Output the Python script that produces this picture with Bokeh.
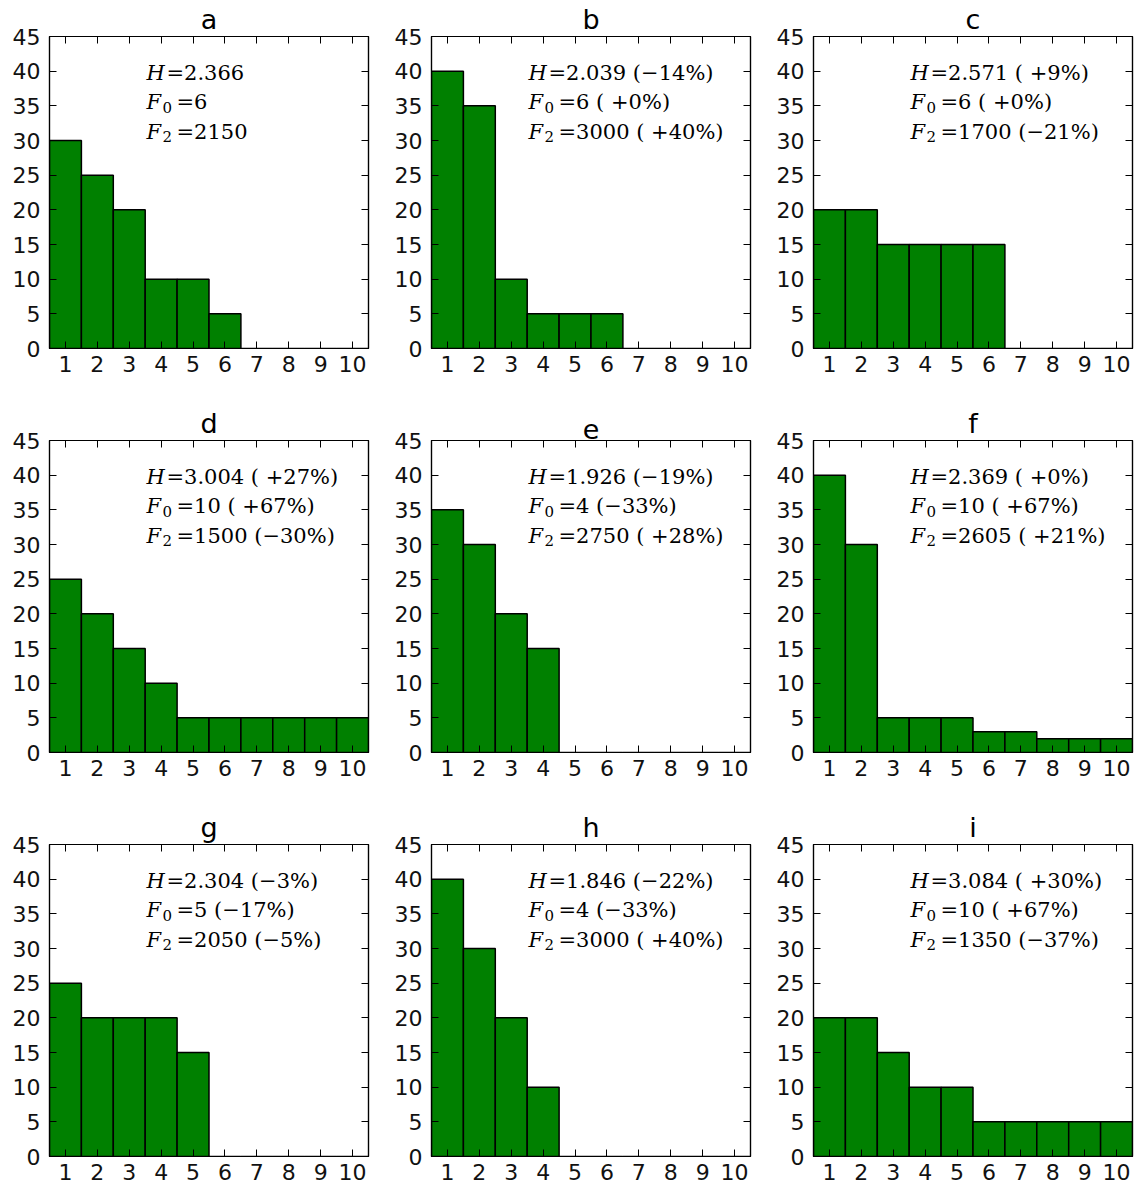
from bokeh.plotting import figure
from bokeh.layouts import gridplot
from bokeh.models import LinearAxis, FixedTicker, Label, Range1d, ColumnDataSource
from bokeh.embed import file_html
from bokeh.resources import INLINE

# ---------------- data ----------------
panel_names = ["a", "b", "c", "d", "e", "f", "g", "h", "i"]
ranks = [1, 2, 3, 4, 5, 6, 7, 8, 9, 10]
counts_a = [30, 25, 20, 10, 10, 5, 0, 0, 0, 0]
counts_b = [40, 35, 10, 5, 5, 5, 0, 0, 0, 0]
counts_c = [20, 20, 15, 15, 15, 15, 0, 0, 0, 0]
counts_d = [25, 20, 15, 10, 5, 5, 5, 5, 5, 5]
counts_e = [35, 30, 20, 15, 0, 0, 0, 0, 0, 0]
counts_f = [40, 30, 5, 5, 5, 3, 3, 2, 2, 2]
counts_g = [25, 20, 20, 20, 15, 0, 0, 0, 0, 0]
counts_h = [40, 30, 20, 10, 0, 0, 0, 0, 0, 0]
counts_i = [20, 20, 15, 10, 10, 5, 5, 5, 5, 5]
all_counts = [counts_a, counts_b, counts_c, counts_d, counts_e,
              counts_f, counts_g, counts_h, counts_i]

H_values = ["2.366", "2.039", "2.571", "3.004", "1.926", "2.369", "2.304", "1.846", "3.084"]
H_change = ["", "(\u221214%)", "( +9%)", "( +27%)", "(\u221219%)", "( +0%)", "(\u22123%)", "(\u221222%)", "( +30%)"]
F0_values = ["6", "6", "6", "10", "4", "10", "5", "4", "10"]
F0_change = ["", "( +0%)", "( +0%)", "( +67%)", "(\u221233%)", "( +67%)", "(\u221217%)", "(\u221233%)", "( +67%)"]
F2_values = ["2150", "3000", "1700", "1500", "2750", "2605", "2050", "3000", "1350"]
F2_change = ["", "( +40%)", "(\u221221%)", "(\u221230%)", "( +28%)", "( +21%)", "(\u22125%)", "( +40%)", "(\u221237%)"]

y_ticks = [0, 5, 10, 15, 20, 25, 30, 35, 40, 45]

# ---------------- styling ----------------
GREEN = "#008000"
TICK_FONT = "22px"
TITLE_FONT = "27px"
ANN_FONT = "21px"
SUB_FONT = "15px"
SERIF = "DejaVu Serif"
SANS = "DejaVu Sans"
PLOT_W = 319
PLOT_H = 312
X0, X1 = 0.5, 10.5
Y0, Y1 = 0, 45


def make_panel(idx, col, row):
    left_border = 49
    right_border = 14 if col < 2 else 9
    top_border = 36
    bottom_border = 56 if row < 2 else 33
    fw = left_border + PLOT_W + right_border
    fh = top_border + PLOT_H + bottom_border
    p = figure(width=fw, height=fh, output_backend="svg", toolbar_location=None,
               x_range=Range1d(X0, X1), y_range=Range1d(Y0, Y1),
               min_border_left=left_border, min_border_right=right_border,
               min_border_top=top_border, min_border_bottom=bottom_border,
               x_axis_location=None, y_axis_location=None)
    p.title.text = panel_names[idx]
    p.title.align = "center"
    p.title.vertical_align = "middle"
    p.title.text_font = SANS
    p.title.text_font_style = "normal"
    p.title.text_font_size = TITLE_FONT
    p.title.text_color = "black"
    p.title.standoff = 1
    p.title.offset = 0
    p.xgrid.visible = False
    p.ygrid.visible = False
    p.outline_line_color = "black"
    p.outline_line_width = 1.2
    p.background_fill_color = "white"
    p.border_fill_color = "white"

    for loc in ["below", "left", "above", "right"]:
        ax = LinearAxis()
        if loc in ("below", "above"):
            ax.ticker = FixedTicker(ticks=ranks)
        else:
            ax.ticker = FixedTicker(ticks=y_ticks)
        ax.major_tick_in = 7
        ax.major_tick_out = 0
        ax.minor_tick_in = 0
        ax.minor_tick_out = 0
        ax.major_tick_line_color = "black"
        ax.major_tick_line_width = 1
        ax.axis_line_color = "black"
        ax.axis_line_width = 1.2
        ax.major_label_text_font = SANS
        ax.major_label_text_color = "#111111"
        ax.major_label_text_font_size = TICK_FONT
        ax.major_label_standoff = 9 if loc == "left" else 7
        if loc in ("above", "right"):
            ax.major_label_text_color = None
            ax.major_label_text_font_size = "1px"
            ax.major_label_standoff = 0
        p.add_layout(ax, loc)

    src = ColumnDataSource(dict(x=ranks, top=all_counts[idx]))
    p.vbar(x="x", top="top", bottom=0, width=1.0, source=src,
           fill_color=GREEN, line_color="black", line_width=1.5)

    # annotation block placed at fixed axes fractions
    tx = X0 + 0.304 * (X1 - X0)
    base_y = [Y1 * (PLOT_H - 36) / PLOT_H,
              Y1 * (PLOT_H - 65.5) / PLOT_H,
              Y1 * (PLOT_H - 95) / PLOT_H]
    lines = [("H", None, H_values[idx], H_change[idx]),
             ("F", "0", F0_values[idx], F0_change[idx]),
             ("F", "2", F2_values[idx], F2_change[idx])]
    for (sym, sub, val, chg), by in zip(lines, base_y):
        p.add_layout(Label(x=tx, y=by, text=sym, text_font=SERIF,
                           text_font_style="italic", text_font_size=ANN_FONT,
                           text_baseline="alphabetic", text_color="black"))
        if sub is None:
            rest_off = 20
        else:
            p.add_layout(Label(x=tx, y=by, text=sub, x_offset=16, y_offset=-5,
                               text_font=SERIF, text_font_size=SUB_FONT,
                               text_baseline="alphabetic", text_color="black"))
            rest_off = 30
        rest = "=" + val + ((" " + chg) if chg else "")
        p.add_layout(Label(x=tx, y=by, text=rest, x_offset=rest_off,
                           text_font=SERIF, text_font_size=ANN_FONT,
                           text_baseline="alphabetic", text_color="black"))
    return p


grid = []
for r in range(3):
    row_figs = []
    for c in range(3):
        row_figs.append(make_panel(r * 3 + c, c, r))
    grid.append(row_figs)

layout = gridplot(grid, toolbar_location=None)

open("out.html", "w").write(file_html(layout, INLINE))
